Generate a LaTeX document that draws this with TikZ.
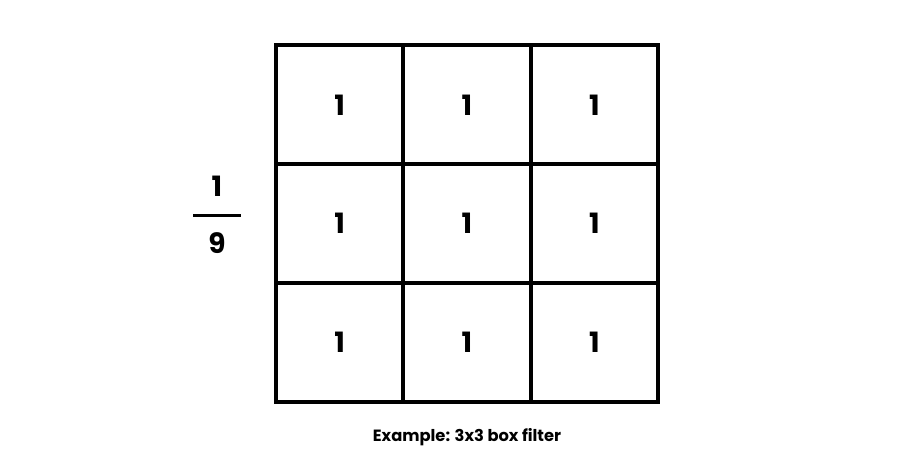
\documentclass[tikz,border=0pt]{standalone}
\usepackage{fontspec}
\setmainfont{Poppins}
\begin{document}
\begin{tikzpicture}[x=1pt,y=-1pt,
  gridline/.style={line width=4pt, line cap=rect},
  cellnum/.style={font=\fontsize{28}{32}\selectfont\bfseries},
  capt/.style={font=\fontsize{16.3}{20}\selectfont\bfseries}]
\useasboundingbox (0,0) rectangle (898,454);
\foreach \i in {0,1,2,3}{
  \draw[gridline] ({276+127.33*\i},45.5) -- ({276+127.33*\i},402);
  \draw[gridline] (276,{45.5+118.83*\i}) -- (658,{45.5+118.83*\i});
}
\foreach \r in {0,1,2}{
  \foreach \c in {0,1,2}{
    \node[cellnum] (n\r\c) at ({276+127.33*\c+63.67},{45.5+118.83*\r+59.4}) {1};
  }
}
\node[cellnum] (num) at (217,186) {1};
\node[cellnum] (den) at (217,243) {9};
\coordinate (barL) at (193,216);
\coordinate (barR) at (241,216);
\draw[line width=3pt] (barL) -- (barR);
\node[capt] (caption) at (467,437) {Example: 3x3 box filter};
\end{tikzpicture}
\end{document}
